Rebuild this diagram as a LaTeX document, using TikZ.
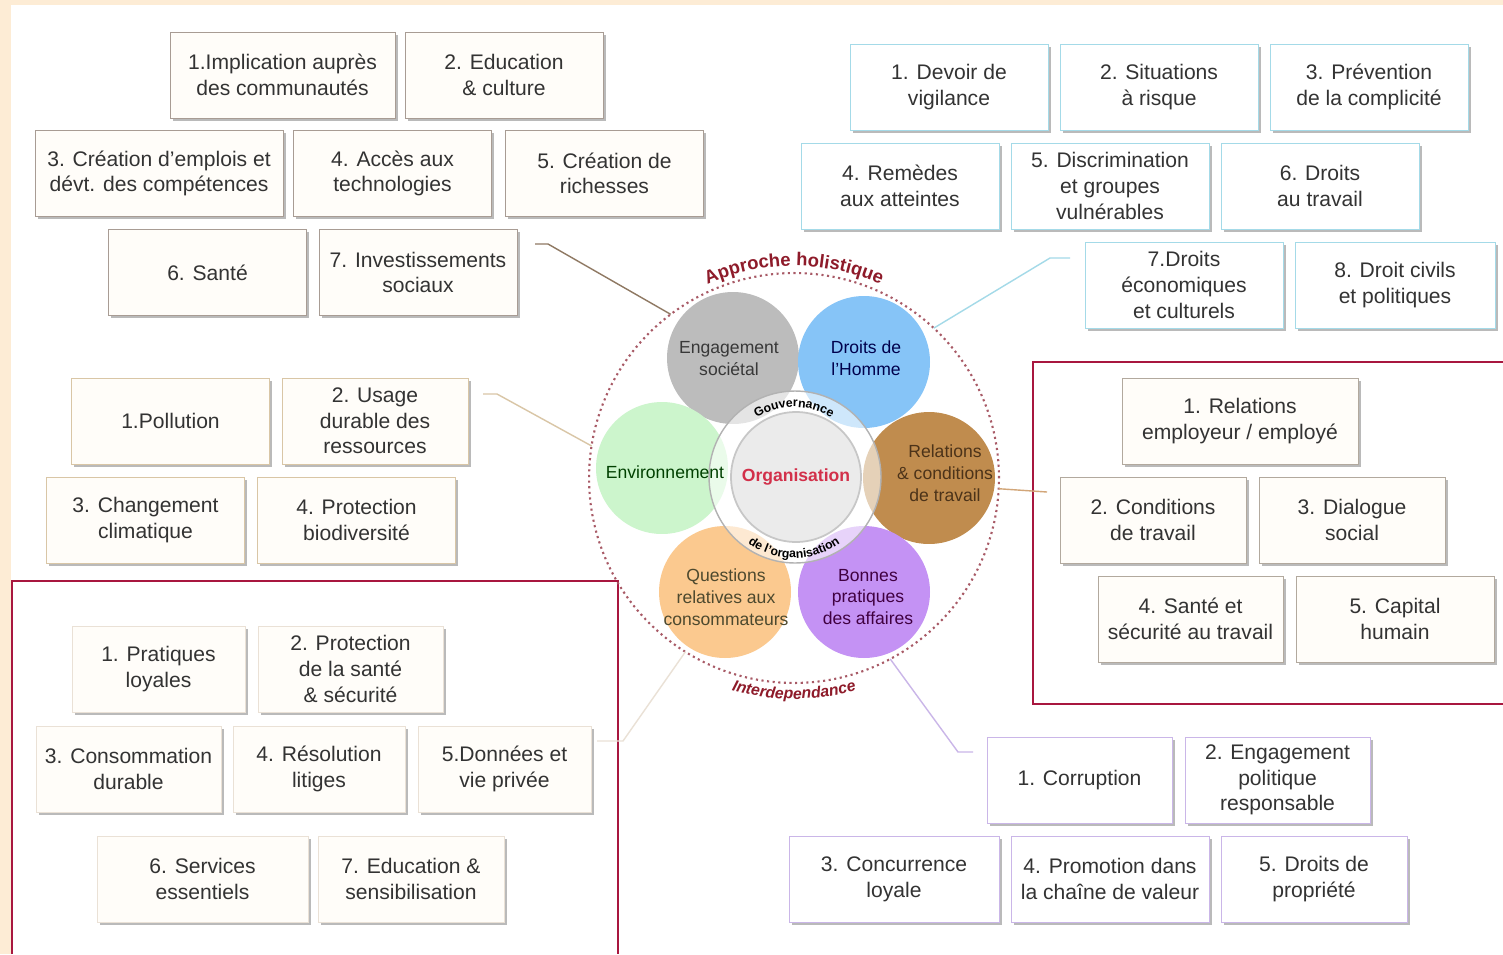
\documentclass[tikz,border=0pt]{standalone}
\usepackage{fontspec}
\setmainfont{Liberation Sans}
\usetikzlibrary{shadows,decorations.text}

\definecolor{peach}{HTML}{FDECD5}
\definecolor{txt}{HTML}{333333}
\definecolor{framered}{HTML}{A8173F}
\definecolor{egline}{HTML}{A89C94}
\definecolor{dhline}{HTML}{A4DAE8}
\definecolor{rtline}{HTML}{B2A99E}
\definecolor{evline}{HTML}{D9C6A6}
\definecolor{qcline}{HTML}{EAE1D6}
\definecolor{bpline}{HTML}{CAB6E8}
\definecolor{warm}{HTML}{FFFDF9}
\definecolor{pgray}{HTML}{BCBCBC}
\definecolor{pblue}{HTML}{86C4F7}
\definecolor{pgreen}{HTML}{CCF5CC}
\definecolor{pbrown}{HTML}{C08C4E}
\definecolor{porange}{HTML}{FBC98F}
\definecolor{ppurple}{HTML}{C492F4}
\definecolor{holred}{HTML}{8E1B2A}
\definecolor{orgred}{HTML}{D2304A}
\definecolor{dots}{HTML}{A85A66}

\tikzset{
  item/.style={draw, fill=warm, minimum width=3.96cm, minimum height=1.72cm,
    inner sep=1pt, align=center, text=txt, font=\fontsize{12}{14.6}\selectfont,
    drop shadow={shadow xshift=1.6pt, shadow yshift=-1.6pt, fill=black!60, opacity=0.45}},
  egbox/.style={item, draw=egline},
  dhbox/.style={item, draw=dhline, fill=white},
  rtbox/.style={item, draw=rtline},
  evbox/.style={item, draw=evline},
  qcbox/.style={item, draw=qcline},
  bpbox/.style={item, draw=bpline, fill=white},
  petal/.style={circle, minimum size=2.64cm, inner sep=0pt},
  ptext/.style={align=center, font=\fontsize{10}{12.5}\selectfont},
  frame/.style={draw=framered, line width=1.5pt},
  link/.style={line width=0.8pt},
}

\begin{document}
\begin{tikzpicture}[x=0.02cm, y=-0.02cm]
\useasboundingbox (0,0) rectangle (1503,954);
\fill[peach] (0,0) rectangle (1503,954);
\fill[white] (11,5) rectangle (1503,954);

% red frames
\draw[frame] (1503,362) -- (1033,362) -- (1033,704) -- (1503,704);
\draw[frame] (12,954) -- (12,581) -- (618,581) -- (618,954);

% centre
\node[petal, fill=pgray] (pe) at (733,358) {};
\node[petal, fill=pblue] (pd) at (864,362) {};
\node[petal, fill=pgreen] (pv) at (662,468) {};
\node[petal, fill=pbrown] (pr) at (929,478) {};
\node[petal, fill=porange] (pq) at (725,592) {};
\node[petal, fill=ppurple] (pb) at (864,592) {};
\node[circle, minimum size=3.44cm, inner sep=0pt, fill=white, fill opacity=0.6,
  draw=black!30, line width=0.8pt] (gov) at (795,477) {};
\node[circle, minimum size=2.6cm, inner sep=0pt, fill=black!8, draw=black!22,
  line width=1pt, text=orgred, font=\fontsize{10}{12}\selectfont\bfseries] (org) at (796,477) {Organisation};
\node[circle, draw=dots, dotted, line width=1.2pt, minimum size=8.2cm,
  inner sep=0pt, outer sep=0pt] (outer) at (794,478) {};

\node[ptext, text=black!78] (te) at (729,359) {Engagement\\sociétal};
\node[ptext, text=blue!30!black] (td) at (866,358) {Droits de\\l'Homme};
\node[ptext, text=green!25!black] (tv) at (665,472) {Environnement};
\node[ptext, text=brown!40!black] (tr) at (945,473) {Relations\\\& conditions\\de travail};
\node[ptext, text=olive!40!black] (tq) at (726,597) {Questions\\relatives aux\\consommateurs};
\node[ptext, text=violet!50!black] (tb) at (868,597) {Bonnes\\pratiques\\des affaires};

\begin{scope}[shift={(outer.center)}, x=0.02cm, y=0.02cm]
  \path[decorate, decoration={text along path, text align=center,
    text={|\fontsize{10.5}{12}\selectfont\bfseries\color{holred}|Approche holistique}}]
    (122:212) arc[start angle=122, end angle=58, radius=212];
  \path[decorate, decoration={text along path, text align=center,
    text={|\fontsize{9}{11}\selectfont\bfseries\itshape\color{holred}|Interdependance}}]
    (239:221) arc[start angle=239, end angle=301, radius=221];
  \path[decorate, decoration={text along path, text align=center,
    text={|\fontsize{7}{8}\selectfont\bfseries|Gouvernance}}]
    (128:71) arc[start angle=128, end angle=52, radius=71];
  \path[decorate, decoration={text along path, text align=center,
    text={|\fontsize{7}{8}\selectfont\bfseries|de l'organisation}}]
    (232:80) arc[start angle=232, end angle=308, radius=80];
\end{scope}

% links
\coordinate (ke) at (535,244);
\coordinate (kd) at (1070,258);
\coordinate (kv) at (483,394);
\coordinate (kr) at (1047,492);
\coordinate (kq) at (597,741);
\coordinate (kb) at (973,752);
\draw[link, draw=black!50!brown!70] (ke) -- ++(13,0) -- (outer.127);
\draw[link, draw=dhline] (kd) -- ++(-20,0) -- (outer.47);
\draw[link, draw=evline] (kv) -- ++(14,0) -- (outer.171);
\draw[link, draw=brown!70] (outer.-3) -- (kr);
\draw[link, draw=qcline] (kq) -- ++(26,0) -- (outer.-122);
\draw[link, draw=bpline] (kb) -- ++(-15,0) -- (outer.-62);

% Engagement societal
\node[egbox, minimum width=4.5cm] (ea) at (282.5,75) {1.Implication auprès\\des communautés};
\node[egbox] (eb) at (504,75) {2. Education\\\& culture};
\node[egbox, minimum width=4.96cm] (ec) at (159,173.5) {3. Création d'emplois et\\dévt. des compétences};
\node[egbox] (ed) at (392.5,173.5) {4. Accès aux\\technologies};
\node[egbox] (ee) at (604.5,173.5) {5. Création de\\richesses};
\node[egbox] (ef) at (207.5,272.5) {6. Santé};
\node[egbox] (eg) at (418,272.5) {7. Investissements\\sociaux};

% Droits de l'Homme
\node[dhbox] (da) at (949,87) {1. Devoir de\\vigilance};
\node[dhbox] (db) at (1159,87) {2. Situations\\à risque};
\node[dhbox] (dc) at (1369,87) {3. Prévention\\de la complicité};
\node[dhbox] (dd) at (900,186) {4. Remèdes\\aux atteintes};
\node[dhbox] (de) at (1110,186) {5. Discrimination\\et groupes\\vulnérables};
\node[dhbox] (df) at (1320,186) {6. Droits\\au travail};
\node[dhbox] (dg) at (1184,285) {7.Droits\\économiques\\et culturels};
\node[dhbox, minimum width=4cm] (dh) at (1395,285) {8. Droit civils\\et politiques};

% Relations et conditions de travail
\node[rtbox, minimum width=4.72cm] (ra) at (1240,421) {1. Relations\\employeur / employé};
\node[rtbox, minimum width=3.72cm] (rb) at (1153,520) {2. Conditions\\de travail};
\node[rtbox, minimum width=3.72cm] (rc) at (1352,520) {3. Dialogue\\social};
\node[rtbox, minimum width=3.7cm] (rd) at (1190.5,619) {4. Santé et\\sécurité au travail};
\node[rtbox] (re) at (1395,619) {5. Capital\\humain};

% Environnement
\node[evbox] (va) at (170.5,421) {1.Pollution};
\node[evbox, minimum width=3.72cm] (vb) at (375,421) {2. Usage\\durable des\\ressources};
\node[evbox] (vc) at (145.5,520) {3. Changement\\climatique};
\node[evbox] (vd) at (356.5,520) {4. Protection\\biodiversité};

% Questions consommateurs
\node[qcbox, minimum width=3.46cm] (qa) at (158.5,669) {1. Pratiques\\loyales};
\node[qcbox, minimum width=3.7cm] (qb) at (350.5,669) {2. Protection\\de la santé\\\& sécurité};
\node[qcbox, minimum width=3.7cm] (qc) at (128.5,769) {3. Consommation\\durable};
\node[qcbox, minimum width=3.44cm] (qd) at (319,769) {4. Résolution\\litiges};
\node[qcbox, minimum width=3.46cm] (qe) at (504.5,769) {5.Données et\\vie privée};
\node[qcbox, minimum width=4.22cm] (qf) at (202.5,879) {6. Services\\essentiels};
\node[qcbox, minimum width=3.72cm] (qg) at (411,879) {7. Education \&\\sensibilisation};

% Bonnes pratiques des affaires
\node[bpbox, minimum width=3.7cm] (ba) at (1079.5,780) {1. Corruption};
\node[bpbox, minimum width=3.7cm] (bb) at (1277.5,780) {2. Engagement\\politique\\responsable};
\node[bpbox, minimum width=4.2cm] (bc) at (894,879) {3. Concurrence\\loyale};
\node[bpbox] (bd) at (1110,879) {4. Promotion dans\\la chaîne de valeur};
\node[bpbox, minimum width=3.72cm] (be) at (1314,879) {5. Droits de\\propriété};
\end{tikzpicture}
\end{document}
